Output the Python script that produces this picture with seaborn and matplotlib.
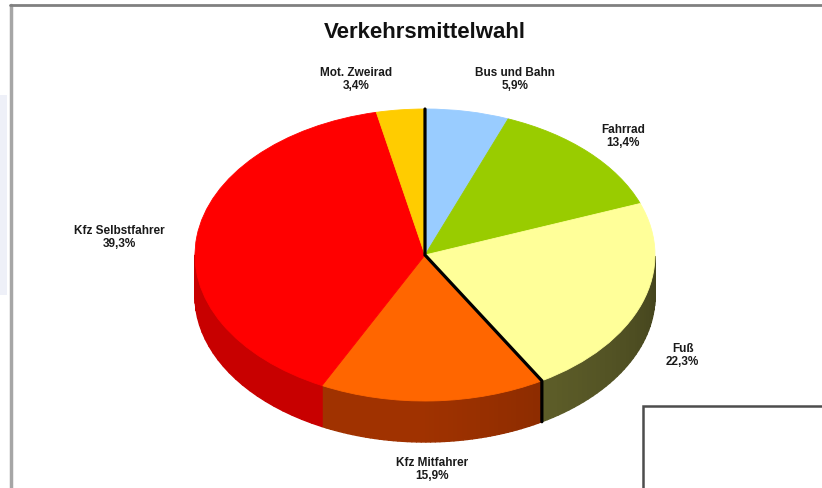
import numpy as np
import matplotlib.pyplot as plt
import matplotlib.colors as mcolors
from matplotlib.patches import Rectangle
from matplotlib.collections import PolyCollection
import seaborn as sns

# ----------------------------
# Data
# ----------------------------

categories = ["Bus und Bahn", "Fahrrad", "Fuß", "Kfz Mitfahrer", "Kfz Selbstfahrer", "Mot. Zweirad"]
shares = [5.9, 13.4, 22.3, 15.9, 39.3, 3.4]
top_colors = ["#99CCFF", "#99CC00", "#FFFF99", "#FF6600", "#FF0000", "#FFCC00"]
side_colors = ["#5C7A99", "#5C7A00", "#6A6A2E", "#A03200", "#C80000", "#997A00"]
# label anchors in pie units (radius = 1)
label_pos = [(0.39, 1.20), (0.86, 0.81), (1.12, -0.69), (0.03, -1.47), (-1.33, 0.12), (-0.30, 1.20)]

sns.set_theme(style="white")
plt.rcParams["font.family"] = ["Liberation Sans", "DejaVu Sans"]

W, H = 822, 488
CX, CY, RX, RY = 425, 255, 230, 146
DEPTH = 41 / RY

fig = plt.figure(figsize=(W / 100, H / 100), dpi=100)

# ----------------------------
# Background frame
# ----------------------------

bg = fig.add_axes([0, 0, 1, 1])
bg.set_xlim(0, W)
bg.set_ylim(H, 0)
bg.axis("off")
bg.add_patch(Rectangle((0, 95), 7, 200, color="#EEF0F8", lw=0))
bg.plot([11, 11], [5, H], color="#A6A6A6", lw=2.5)
bg.plot([10, W], [5, 5], color="#808080", lw=2)
bg.add_patch(Rectangle((643, 406), 220, 120, facecolor="white", edgecolor="#4D4D4D", lw=1.8))
bg.text(CX, 33, "Verkehrsmittelwahl", fontsize=16, fontweight="bold", ha="center", va="center", color="#111111")

# ----------------------------
# Pie
# ----------------------------

ax = fig.add_axes([0, 0, 1, 1])
ax.patch.set_visible(False)

wedges, _ = ax.pie(shares, colors=top_colors, startangle=90, counterclock=False,
                   wedgeprops=dict(linewidth=0.6))
for w, c in zip(wedges, top_colors):
    w.set_edgecolor(c)
    w.set_zorder(2)

# side walls, front half only
polys, fcs = [], []
for w, sc in zip(wedges, side_colors):
    base = np.array(mcolors.to_rgb(sc))
    a = np.linspace(w.theta1, w.theta2, 50)
    for a1, a2 in zip(a[:-1], a[1:]):
        mid = np.radians((a1 + a2) / 2)
        if np.sin(mid) >= 0:
            continue
        r1, r2 = np.radians(a1), np.radians(a2)
        polys.append([(np.cos(r1), np.sin(r1)), (np.cos(r2), np.sin(r2)),
                      (np.cos(r2), np.sin(r2) - DEPTH), (np.cos(r1), np.sin(r1) - DEPTH)])
        shade = np.clip(0.82 + 0.25 * np.cos(mid + np.radians(135)), 0, 1)
        fcs.append(base * shade)
ax.add_collection(PolyCollection(polys, facecolors=fcs, edgecolors="face", linewidths=1.0, zorder=1))

# black boundary lines
t = np.radians(wedges[2].theta1)
ax.plot([0, 0, np.cos(t), np.cos(t)], [1, 0, np.sin(t), np.sin(t) - DEPTH],
        color="black", lw=2.3, solid_joinstyle="miter", zorder=3)

# labels
for name, val, (lx, ly) in zip(categories, shares, label_pos):
    pct = f"{val:.1f}".replace(".", ",") + "%"
    ax.text(lx, ly, f"{name}\n{pct}", ha="center", va="center", fontsize=8.5, fontweight="bold",
            color="#1A1A1A", linespacing=1.1)

ax.set_aspect("auto")
ax.set_xlim(-CX / RX, (W - CX) / RX)
ax.set_ylim(-(H - CY) / RY, CY / RY)
ax.axis("off")

fig.savefig("out.png", dpi=100)
